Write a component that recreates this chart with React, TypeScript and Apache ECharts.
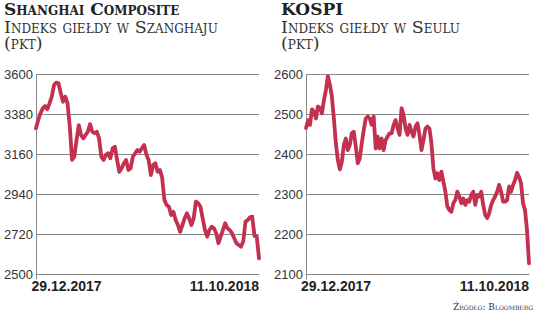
import React, { useEffect, useRef } from "react";
import * as echarts from "echarts";

// Shanghai Composite, 29.12.2017 – 11.10.2018 (pts)
const shanghaiValues = [
  3304, 3350, 3387, 3414, 3427, 3409, 3441, 3478, 3542, 3555,
  3551, 3497, 3450, 3478, 3441, 3313, 3130, 3148, 3240, 3322,
  3267, 3249, 3267, 3285, 3327, 3285, 3277, 3285, 3249, 3148,
  3130, 3157, 3167, 3139, 3194, 3203, 3130, 3065, 3084, 3112,
  3130, 3075, 3084, 3148, 3167, 3185, 3175, 3194, 3212, 3160,
  3130, 3047, 3102, 3112, 3065, 3075, 3033, 2910, 2882, 2873,
  2827, 2845, 2800, 2772, 2735, 2772, 2809, 2837, 2809, 2772,
  2809, 2901, 2892, 2873, 2809, 2745, 2708, 2745, 2763, 2754,
  2727, 2672, 2708, 2745, 2782, 2754, 2745, 2727, 2699, 2672,
  2662, 2653, 2681, 2790, 2800, 2815, 2818, 2712, 2708, 2589,
];

// KOSPI, 29.12.2017 – 11.10.2018 (pts)
const kospiValues = [
  2466, 2486, 2474, 2513, 2507, 2490, 2520, 2516, 2503, 2536,
  2561, 2596, 2574, 2545, 2490, 2428, 2386, 2363, 2382, 2424,
  2440, 2411, 2424, 2453, 2457, 2420, 2378, 2390, 2428, 2461,
  2490, 2495, 2490, 2474, 2495, 2415, 2445, 2415, 2440, 2411,
  2436, 2445, 2453, 2453, 2474, 2486, 2465, 2449, 2516, 2499,
  2465, 2449, 2474, 2457, 2445, 2470, 2478, 2449, 2411, 2436,
  2465, 2470, 2465, 2428, 2365, 2340, 2353, 2336, 2357, 2332,
  2307, 2270, 2261, 2257, 2278, 2286, 2307, 2295, 2278, 2290,
  2274, 2286, 2282, 2299, 2307, 2274, 2299, 2295, 2307, 2274,
  2249, 2241, 2253, 2274, 2286, 2295, 2307, 2324, 2307, 2282,
  2282, 2286, 2320, 2307, 2324, 2336, 2354, 2344, 2328, 2278,
  2261, 2211, 2128,
];

const dateLabels = ["29.12.2017", "11.10.2018"];

const shanghaiMin = 2500;
const shanghaiMax = 3600;
const shanghaiStep = 220;

const kospiMin = 2100;
const kospiMax = 2600;
const kospiStep = 100;

const leftTitle = "Shanghai Composite";
const leftSubtitle = "Indeks giełdy w Szanghaju";
const rightTitle = "KOSPI";
const rightSubtitle = "Indeks giełdy w Seulu";
const unitLabel = "(pkt)";
const sourceLabel = "Źródło: Bloomberg";

const LINE_COLOR = "#c4304f";
const GRID_COLOR = "#8a8a8a";
const TEXT_COLOR = "#222";
const DATE_FONT = "Liberation Sans, Arial, sans-serif";

function makeCategories(values: number[]) {
  const last = values.length - 1;
  return values.map((_, i) =>
    i === 0 ? dateLabels[0] : i === last ? dateLabels[1] : String(i)
  );
}

function makeXAxis(gridIndex: number, values: number[], firstPad: number) {
  const last = values.length - 1;
  return {
    type: "category",
    gridIndex,
    boundaryGap: false,
    data: makeCategories(values),
    axisLine: { show: true, lineStyle: { color: GRID_COLOR, width: 1 } },
    axisTick: {
      show: true,
      length: 5,
      interval: (i: number) => i === 0,
      lineStyle: { color: GRID_COLOR },
    },
    axisLabel: {
      show: true,
      interval: (i: number) => i === 0 || i === last,
      showMinLabel: true,
      showMaxLabel: true,
      alignMinLabel: "center",
      alignMaxLabel: "right",
      margin: 4,
      color: TEXT_COLOR,
      fontFamily: DATE_FONT,
      fontWeight: "bold",
      fontSize: 14,
      formatter: (v: string, i: number) => (i === 0 ? `{first|${v}}` : v),
      rich: {
        first: {
          padding: [0, 0, 0, firstPad],
          color: TEXT_COLOR,
          fontFamily: DATE_FONT,
          fontWeight: "bold",
          fontSize: 14,
        },
      },
    },
    splitLine: { show: false },
  };
}

function makeYAxis(gridIndex: number, min: number, max: number, step: number) {
  return {
    type: "value",
    gridIndex,
    min,
    max,
    interval: step,
    axisLine: { show: true, lineStyle: { color: GRID_COLOR, width: 1 } },
    axisTick: { show: false },
    axisLabel: {
      margin: 3,
      color: "#333",
      fontFamily: "Liberation Sans, Arial, sans-serif",
      fontSize: 13,
      formatter: (v: number) => String(v),
    },
    splitLine: { show: true, lineStyle: { color: GRID_COLOR, width: 1 } },
  };
}

function makeText(
  text: string,
  x: number,
  y: number,
  font: string,
  align: string = "left",
  fill: string = TEXT_COLOR
) {
  return {
    type: "text",
    silent: true,
    style: {
      text,
      x,
      y,
      font,
      fill,
      textAlign: align,
      textVerticalAlign: "middle",
    },
  };
}

const TITLE_FONT = "small-caps bold 17px 'DejaVu Serif'";
const SUB_FONT = "small-caps normal 17.5px 'DejaVu Serif'";
const SOURCE_FONT = "small-caps normal 9px 'DejaVu Serif'";

export default function App() {
  const ref = useRef<HTMLDivElement>(null);

  useEffect(() => {
    if (!ref.current) return;
    const chart = echarts.init(ref.current, null, { renderer: "svg" });
    chart.setOption({
      animation: false,
      backgroundColor: "#ffffff",
      grid: [
        { left: 36, right: 277, top: 74.5, bottom: 40.5 },
        { left: 306, right: 7, top: 74.5, bottom: 40.5 },
      ],
      xAxis: [makeXAxis(0, shanghaiValues, 61), makeXAxis(1, kospiValues, 60)],
      yAxis: [
        makeYAxis(0, shanghaiMin, shanghaiMax, shanghaiStep),
        makeYAxis(1, kospiMin, kospiMax, kospiStep),
      ],
      series: [
        {
          type: "line",
          xAxisIndex: 0,
          yAxisIndex: 0,
          data: shanghaiValues,
          showSymbol: false,
          lineStyle: { color: LINE_COLOR, width: 3.8, cap: "round", join: "round" },
          itemStyle: { color: LINE_COLOR },
        },
        {
          type: "line",
          xAxisIndex: 1,
          yAxisIndex: 1,
          data: kospiValues,
          showSymbol: false,
          lineStyle: { color: LINE_COLOR, width: 3.8, cap: "round", join: "round" },
          itemStyle: { color: LINE_COLOR },
        },
      ],
      graphic: [
        makeText(leftTitle, 4, 8.5, TITLE_FONT),
        makeText(leftSubtitle, 4, 26.8, SUB_FONT, "left", "#333"),
        makeText(unitLabel, 4, 43.2, SUB_FONT, "left", "#333"),
        makeText(rightTitle, 281, 8.5, TITLE_FONT),
        makeText(rightSubtitle, 281, 26.8, SUB_FONT, "left", "#333"),
        makeText(unitLabel, 281, 43.2, SUB_FONT, "left", "#333"),
        makeText(sourceLabel, 533, 306.5, SOURCE_FONT, "right", "#333"),
      ],
    });
    return () => chart.dispose();
  }, []);

  return (
    <div
      ref={ref}
      style={{ position: "fixed", left: 0, top: 0, width: 536, height: 315 }}
    />
  );
}
